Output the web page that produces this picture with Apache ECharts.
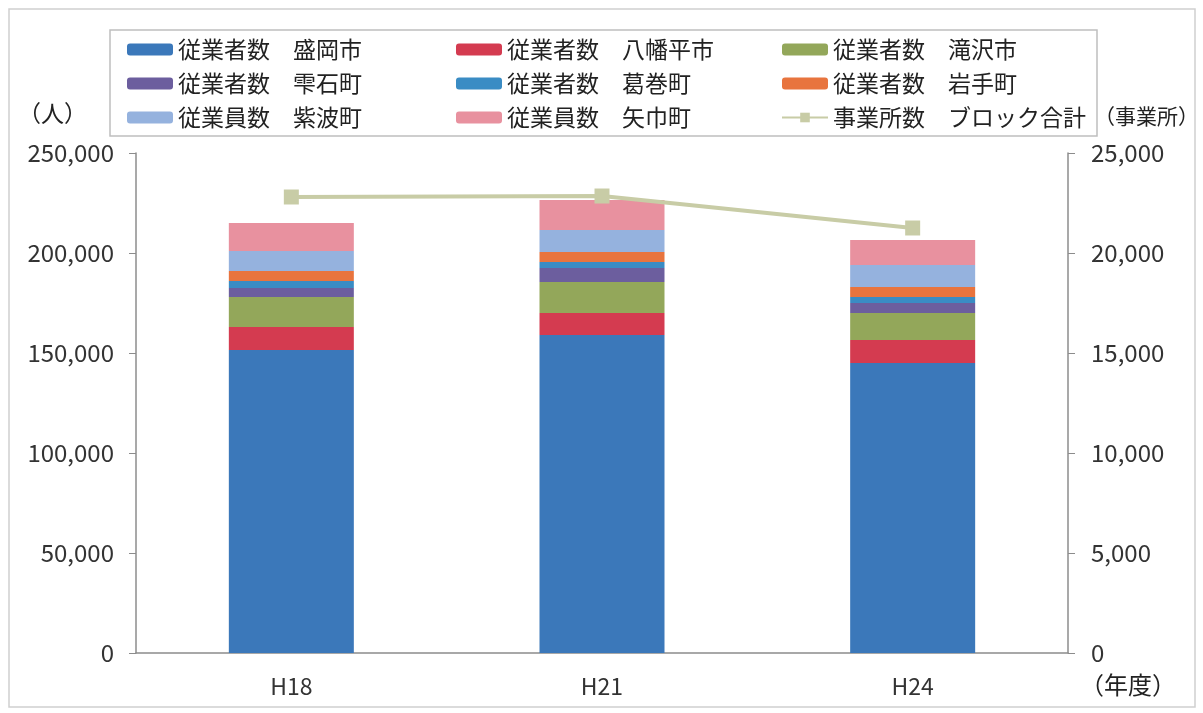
<!DOCTYPE html>
<html>
<head>
<meta charset="utf-8">
<script src="https://cdn.jsdelivr.net/npm/echarts@6/dist/echarts.min.js"></script>
<style>
  html, body { margin: 0; padding: 0; background: #fff; }
  #main { width: 1203px; height: 713px; }
</style>
</head>
<body>
<div id="main"></div>
<script>
// 年度
var years = ['H18', 'H21', 'H24'];
// 従業者数（人）
var morioka   = [151500, 159000, 145000];
var hachimantai = [11500, 11000, 11500];
var takizawa  = [15000, 15500, 13500];
var shizukuishi = [4500, 7000, 5000];
var kuzumaki  = [3500, 3000, 3000];
var iwate     = [5000, 5000, 5000];
var shiwa     = [10000, 11000, 11000];
var yahaba    = [14000, 15000, 12500];
// 事業所数 ブロック合計
var offices = [22800, 22850, 21250];

var FONT = '"Noto Sans CJK JP", "Noto Sans", sans-serif';

var chartDom = document.getElementById('main');
var myChart = echarts.init(chartDom);

function barSeries(name, data, color) {
    return {
        name: name,
        type: 'bar',
        stack: 'emp',
        barWidth: 125,
        data: data,
        itemStyle: { color: color }
    };
}

var legendText = { fontSize: 23, color: '#222', fontFamily: FONT };

var option = {
    animation: false,
    backgroundColor: '#fff',
    grid: { left: 136, right: 135, top: 153, bottom: 60 },
    legend: [
        {
            left: 122, top: 33, orient: 'vertical', itemGap: 11,
            itemWidth: 46, itemHeight: 12, textStyle: legendText,
            data: ['従業者数　盛岡市', '従業者数　雫石町', '従業員数　紫波町']
        },
        {
            left: 451, top: 33, orient: 'vertical', itemGap: 11,
            itemWidth: 46, itemHeight: 12, textStyle: legendText,
            data: ['従業者数　八幡平市', '従業者数　葛巻町', '従業員数　矢巾町']
        },
        {
            left: 776, top: 33, orient: 'vertical', itemGap: 11,
            itemWidth: 46, itemHeight: 12, textStyle: legendText,
            data: ['従業者数　滝沢市', '従業者数　岩手町', '事業所数　ブロック合計']
        }
    ],
    xAxis: {
        type: 'category',
        data: years,
        axisLine: { lineStyle: { color: '#8c8c8c', width: 1.5 } },
        axisTick: { show: false },
        axisLabel: { fontSize: 23, color: '#333', fontFamily: FONT, margin: 22 }
    },
    yAxis: [
        {
            type: 'value', min: 0, max: 250000, interval: 50000,
            axisLine: { show: true, lineStyle: { color: '#8c8c8c', width: 1.5 } },
            axisTick: { show: true, length: 7, lineStyle: { color: '#8c8c8c' } },
            splitLine: { show: false },
            axisLabel: {
                fontSize: 24, color: '#333', fontFamily: FONT, margin: 22,
                formatter: function (v) { return v.toLocaleString('en-US'); }
            }
        },
        {
            type: 'value', min: 0, max: 25000, interval: 5000,
            axisLine: { show: true, lineStyle: { color: '#8c8c8c', width: 1.5 } },
            axisTick: { show: true, length: 7, lineStyle: { color: '#8c8c8c' } },
            splitLine: { show: false },
            axisLabel: {
                fontSize: 24, color: '#333', fontFamily: FONT, margin: 23,
                formatter: function (v) { return v.toLocaleString('en-US'); }
            }
        }
    ],
    series: [
        barSeries('従業者数　盛岡市', morioka, '#3b78ba'),
        barSeries('従業者数　八幡平市', hachimantai, '#d43b50'),
        barSeries('従業者数　滝沢市', takizawa, '#93a75a'),
        barSeries('従業者数　雫石町', shizukuishi, '#6c5e9e'),
        barSeries('従業者数　葛巻町', kuzumaki, '#3a8cc4'),
        barSeries('従業者数　岩手町', iwate, '#e8743e'),
        barSeries('従業員数　紫波町', shiwa, '#95b2de'),
        barSeries('従業員数　矢巾町', yahaba, '#e8919f'),
        {
            name: '事業所数　ブロック合計',
            type: 'line',
            yAxisIndex: 1,
            data: offices,
            symbol: 'rect',
            symbolSize: 15,
            lineStyle: { color: '#c8cca6', width: 4 },
            itemStyle: { color: '#c8cca6' }
        }
    ],
    graphic: [
        // 外枠
        { type: 'rect', shape: { x: 9, y: 9, width: 1186, height: 698 }, style: { fill: 'none', stroke: '#d0d0d0', lineWidth: 1.5 }, silent: true },
        // 凡例枠
        { type: 'rect', shape: { x: 110, y: 30, width: 987, height: 106 }, style: { fill: 'none', stroke: '#bfbfbf', lineWidth: 1.5 }, silent: true, z: -1 },
        { type: 'text', left: 18, top: 102, style: { text: '（人）', fill: '#222', font: '23px ' + FONT } },
        { type: 'text', left: 1094, top: 106, style: { text: '（事業所）', fill: '#222', font: '21px ' + FONT } },
        { type: 'text', left: 1080, top: 673, style: { text: '（年度）', fill: '#222', font: '24px ' + FONT } }
    ]
};
option && myChart.setOption(option);
</script>
</body>
</html>
